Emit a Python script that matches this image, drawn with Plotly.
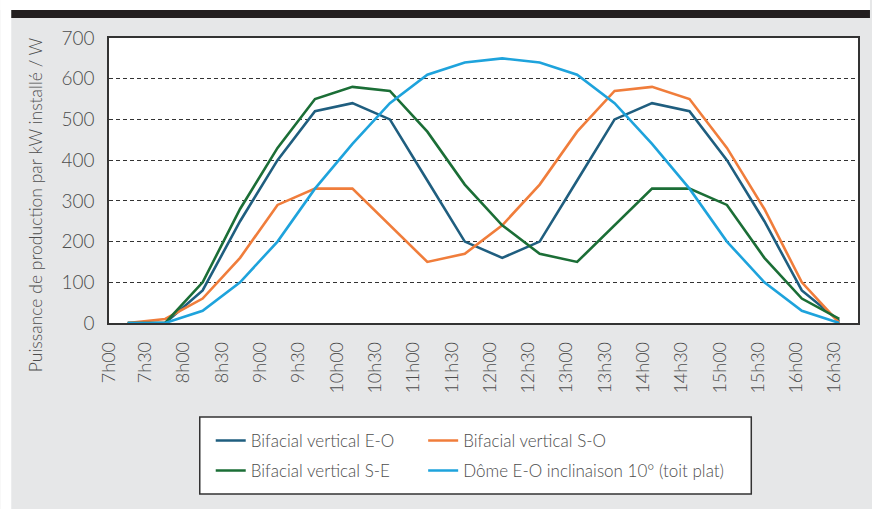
import plotly.graph_objects as go
import numpy as np

times = ["7h00", "7h30", "8h00", "8h30", "9h00", "9h30", "10h00", "10h30", "11h00", "11h30",
         "12h00", "12h30", "13h00", "13h30", "14h00", "14h30", "15h00", "15h30", "16h00", "16h30"]

bifacial_eo = [0, 0, 80, 250, 400, 520, 540, 500, 350, 200, 160, 200, 350, 500, 540, 520, 400, 250, 80, 5]
bifacial_so = [0, 10, 60, 160, 290, 330, 330, 240, 150, 170, 240, 340, 470, 570, 580, 550, 430, 280, 100, 0]
bifacial_se = [0, 0, 100, 280, 430, 550, 580, 570, 470, 340, 240, 170, 150, 240, 330, 330, 290, 160, 60, 10]
dome_eo = [0, 0, 30, 100, 200, 330, 440, 540, 610, 640, 650, 640, 610, 540, 440, 330, 200, 100, 30, 0]

series_names = ["Bifacial vertical E-O", "Bifacial vertical S-O", "Bifacial vertical S-E",
                "Dôme E-O inclinaison 10° (toit plat)"]
yticks = [0, 100, 200, 300, 400, 500, 600, 700]

W, H = 872, 509
L, R, T, B = 109, 860, 38, 323
pw, ph = R - L, B - T

def px(x):
    return (x - L) / pw

def py(y):
    return (B - y) / ph

FONT = "Lato"
TXT = "#4d4d4d"
colors = ["#1f5e7f", "#f07d3b", "#1b6e36", "#1ea3dc"]
legends = ["legend", "legend2", "legend3", "legend4"]
data = [bifacial_eo, bifacial_so, bifacial_se, dome_eo]

x = np.arange(len(times))
fig = go.Figure()
for name, vals, col, lg in zip(series_names, data, colors, legends):
    fig.add_trace(go.Scatter(x=x, y=vals, mode="lines", name=name, showlegend=True,
                             line=dict(color=col, width=2.6), legend=lg))

# label positions (offset like the reference)
cat_w = pw / len(times)
tickpos = []
for i in range(len(times)):
    p = (107 + 38.4 * i - (L + cat_w / 2)) / cat_w
    tickpos.append(max(p, -0.5))

fig.update_xaxes(range=[-0.5, len(times) - 0.5], tickmode="array", tickvals=tickpos, ticktext=times,
                 tickangle=-90, showgrid=False, zeroline=False, showline=True, mirror=True,
                 linecolor="#333333", linewidth=1.5, ticks="",
                 tickfont=dict(family=FONT, size=18, color=TXT, weight=300), ticklabelstandoff=10)
fig.update_yaxes(range=[0, 700], tickmode="array", tickvals=yticks, showgrid=True,
                 gridcolor="#333333", gridwidth=1, griddash="4px,3px", zeroline=False,
                 showline=True, mirror=True, linecolor="#333333", linewidth=1.5, ticks="",
                 tickfont=dict(family=FONT, size=19, color=TXT, weight=300), ticklabelstandoff=9)

shapes = [
    dict(type="rect", xref="paper", yref="paper", x0=px(0), x1=px(W), y0=py(0), y1=py(10),
         fillcolor="white", line=dict(width=0), layer="below"),
    dict(type="rect", xref="paper", yref="paper", x0=px(0), x1=px(11), y0=py(0), y1=py(H),
         fillcolor="white", line=dict(width=0), layer="below"),
    dict(type="rect", xref="paper", yref="paper", x0=px(11), x1=px(W), y0=py(10), y1=py(18),
         fillcolor="#231f20", line=dict(width=0), layer="below"),
    dict(type="rect", xref="paper", yref="paper", x0=px(200), x1=px(753), y0=py(417), y1=py(494),
         fillcolor="white", line=dict(width=1.5, color="#333333"), layer="below"),
]

def leg(xp, yp):
    return dict(orientation="h", x=px(xp), y=py(yp), xanchor="left", yanchor="middle",
                bgcolor="rgba(0,0,0,0)", borderwidth=0,
                font=dict(family=FONT, size=17, color=TXT, weight=300))

fig.update_layout(
    width=W, height=H,
    showlegend=True,
    margin=dict(l=L, r=W - R, t=T, b=H - B),
    paper_bgcolor="#e6e7e8", plot_bgcolor="white",
    shapes=shapes,
    font=dict(family=FONT, color=TXT),
    annotations=[dict(text="Puissance de production par kW installé / W", xref="paper", yref="paper",
                      x=px(35), y=py(205), xanchor="center", yanchor="middle", textangle=-90,
                      showarrow=False, font=dict(family=FONT, size=17.5, color=TXT, weight=300))],
    legend=leg(211, 441),
    legend2=leg(424, 441),
    legend3=leg(211, 471),
    legend4=leg(424, 471),
)

fig.write_html("out.html", config={"displayModeBar": False},
               post_script="document.body.style.margin='0px';")
